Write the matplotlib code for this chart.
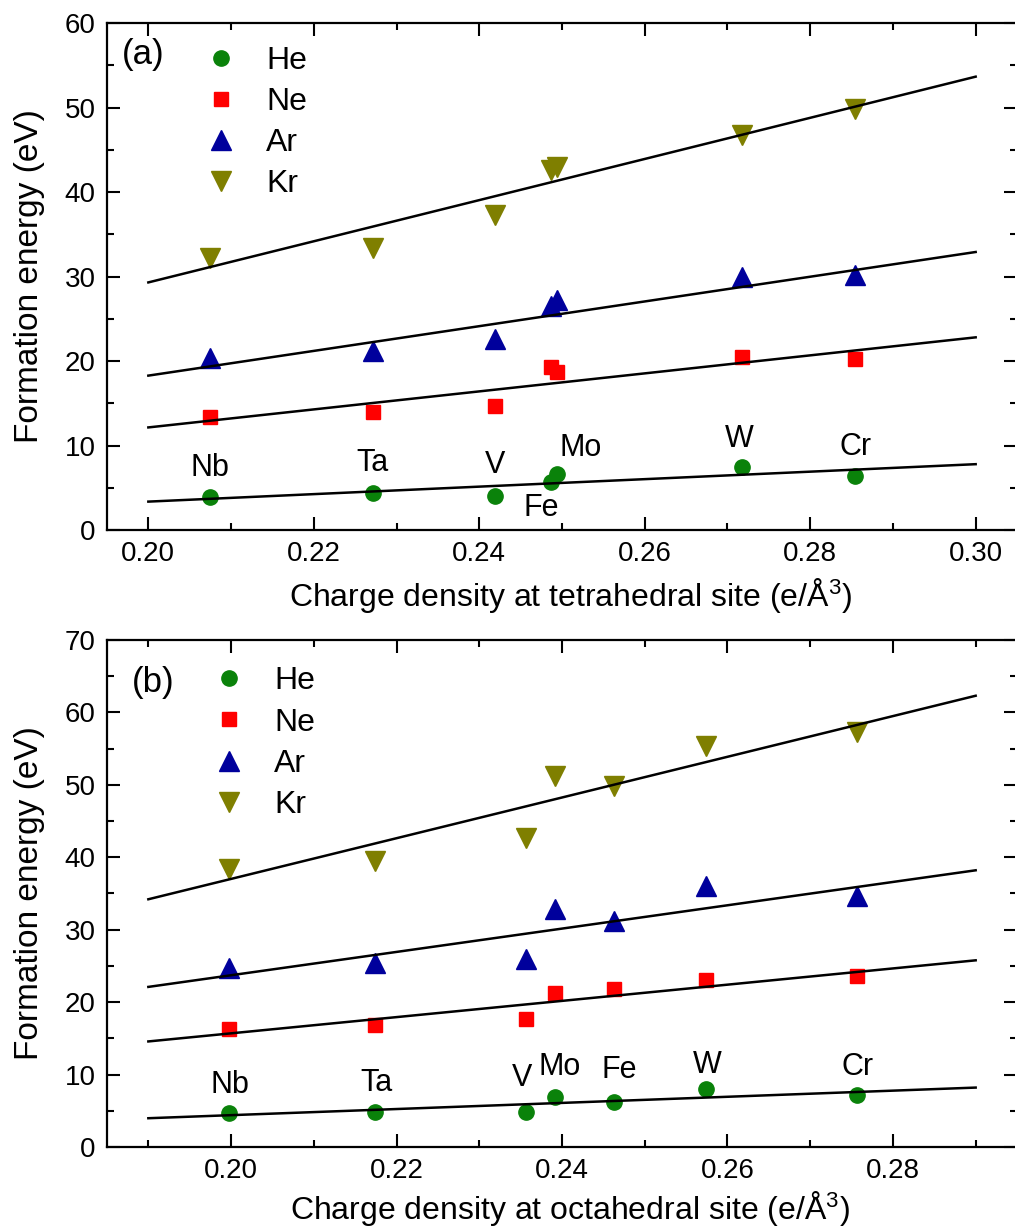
import numpy as np
import matplotlib
matplotlib.use('Agg')
import matplotlib.pyplot as plt
from matplotlib.ticker import MultipleLocator

plt.rcParams['font.family'] = ['Liberation Sans', 'DejaVu Sans']
plt.rcParams['mathtext.fontset'] = 'custom'
plt.rcParams['mathtext.rm'] = 'Liberation Sans'
plt.rcParams['mathtext.it'] = 'Liberation Sans'

# (a) tetrahedral site
tet_metals = ['Nb', 'Ta', 'V', 'Fe', 'Mo', 'W', 'Cr']
tet_x = [0.2074, 0.2271, 0.2419, 0.2487, 0.2494, 0.2717, 0.2854]
tet_he = [3.95, 4.35, 4.07, 5.73, 6.64, 7.50, 6.45]
tet_ne = [13.37, 13.96, 14.63, 19.25, 18.66, 20.48, 20.28]
tet_ar = [20.3, 21.15, 22.6, 26.5, 27.2, 29.97, 30.2]
tet_kr = [32.2, 33.4, 37.3, 42.6, 42.9, 46.8, 49.8]
tet_fit_x = [0.20, 0.30]
tet_fit_he = [3.36, 7.79]
tet_fit_ne = [12.14, 22.8]
tet_fit_ar = [18.27, 32.9]
tet_fit_kr = [29.3, 53.65]

# (b) octahedral site
oct_metals = ['Nb', 'Ta', 'V', 'Mo', 'Fe', 'W', 'Cr']
oct_x = [0.1998, 0.2174, 0.2356, 0.2391, 0.2463, 0.2574, 0.2756]
oct_he = [4.66, 4.89, 4.80, 6.96, 6.27, 7.98, 7.19]
oct_ne = [16.3, 16.9, 17.7, 21.3, 21.85, 23.1, 23.65]
oct_ar = [24.7, 25.4, 26.0, 32.8, 31.2, 36.0, 34.7]
oct_kr = [38.4, 39.5, 42.7, 51.2, 49.8, 55.3, 57.3]
oct_fit_x = [0.19, 0.29]
oct_fit_he = [3.97, 8.2]
oct_fit_ne = [14.57, 25.77]
oct_fit_ar = [22.1, 38.2]
oct_fit_kr = [34.2, 62.3]

gases = ['He', 'Ne', 'Ar', 'Kr']
styles = {'He': ('o', '#0a820a', 11), 'Ne': ('s', '#ff0000', 10),
          'Ar': ('^', '#00009c', 15), 'Kr': ('v', '#7f7f00', 15)}

fig = plt.figure(figsize=(10.15, 12.3), dpi=100)
ax1 = fig.add_axes([0.1054, 0.5691, 0.8966, 0.4122])
ax2 = fig.add_axes([0.1054, 0.0675, 0.8966, 0.4122])


def draw(ax, x, series, fit_x, fits, metals, offsets, xlim, ylim, xlabel, tag,
         leg_anchor, tag_pos, xticks, xlab_y):
    for g, ys in zip(gases, series):
        m, c, ms = styles[g]
        ax.plot(x, ys, ls='none', marker=m, color=c, ms=ms, mec=c, label=g)
    for fy in fits:
        ax.plot(fit_x, fy, color='black', lw=1.8)
    for name, xv, yv in zip(metals, x, series[0]):
        dx, dy = offsets[name]
        ax.annotate(name, (xv, yv), xytext=(dx, dy), textcoords='offset pixels',
                    ha='center', va='center', fontsize=22)
    ax.set_xlim(*xlim)
    ax.set_ylim(*ylim)
    ax.set_xticks(xticks)
    ax.xaxis.set_minor_locator(MultipleLocator(0.01))
    ax.yaxis.set_major_locator(MultipleLocator(10))
    ax.yaxis.set_minor_locator(MultipleLocator(5))
    ax.tick_params(which='both', direction='in', top=True, right=True,
                   width=1.5, labelsize=20, pad=8)
    ax.tick_params(which='major', length=9.5)
    ax.tick_params(which='minor', length=5)
    for s in ax.spines.values():
        s.set_linewidth(1.6)
    ax.set_xlabel(xlabel, fontsize=23)
    ax.set_ylabel('Formation energy (eV)', fontsize=24)
    ax.yaxis.set_label_coords(-0.068, 0.5)
    ax.xaxis.set_label_coords(0.509, xlab_y)
    ax.text(tag_pos[0], tag_pos[1], tag, transform=ax.transAxes, fontsize=25,
            ha='center', va='center')
    ax.legend(loc='upper left', bbox_to_anchor=leg_anchor, frameon=False,
              fontsize=23, handlelength=0.9, handletextpad=0.95,
              labelspacing=0.35, borderpad=0, borderaxespad=0, numpoints=1)


draw(ax1, tet_x, [tet_he, tet_ne, tet_ar, tet_kr], tet_fit_x,
     [tet_fit_he, tet_fit_ne, tet_fit_ar, tet_fit_kr], tet_metals,
     {'Nb': (0, 29), 'Ta': (0, 30), 'V': (0, 31), 'Fe': (-10, -26),
      'Mo': (24, 26), 'W': (-2, 28), 'Cr': (1, 29)},
     (0.195, 0.305), (0, 60),
     'Charge density at tetrahedral site (e/Å$^3$)', '(a)',
     (0.110, 0.955), (0.0396, 0.937), [0.20, 0.22, 0.24, 0.26, 0.28, 0.30],
     -0.091)

draw(ax2, oct_x, [oct_he, oct_ne, oct_ar, oct_kr], oct_fit_x,
     [oct_fit_he, oct_fit_ne, oct_fit_ar, oct_fit_kr], oct_metals,
     {'Nb': (1, 28), 'Ta': (1, 29), 'V': (-4, 34), 'Mo': (5, 30),
      'Fe': (5, 32), 'W': (1, 24), 'Cr': (1, 28)},
     (0.185, 0.295), (0, 70),
     'Charge density at octahedral site (e/Å$^3$)', '(b)',
     (0.1187, 0.948), (0.0505, 0.917), [0.20, 0.22, 0.24, 0.26, 0.28],
     -0.082)

fig.savefig('out.png', dpi=100)
